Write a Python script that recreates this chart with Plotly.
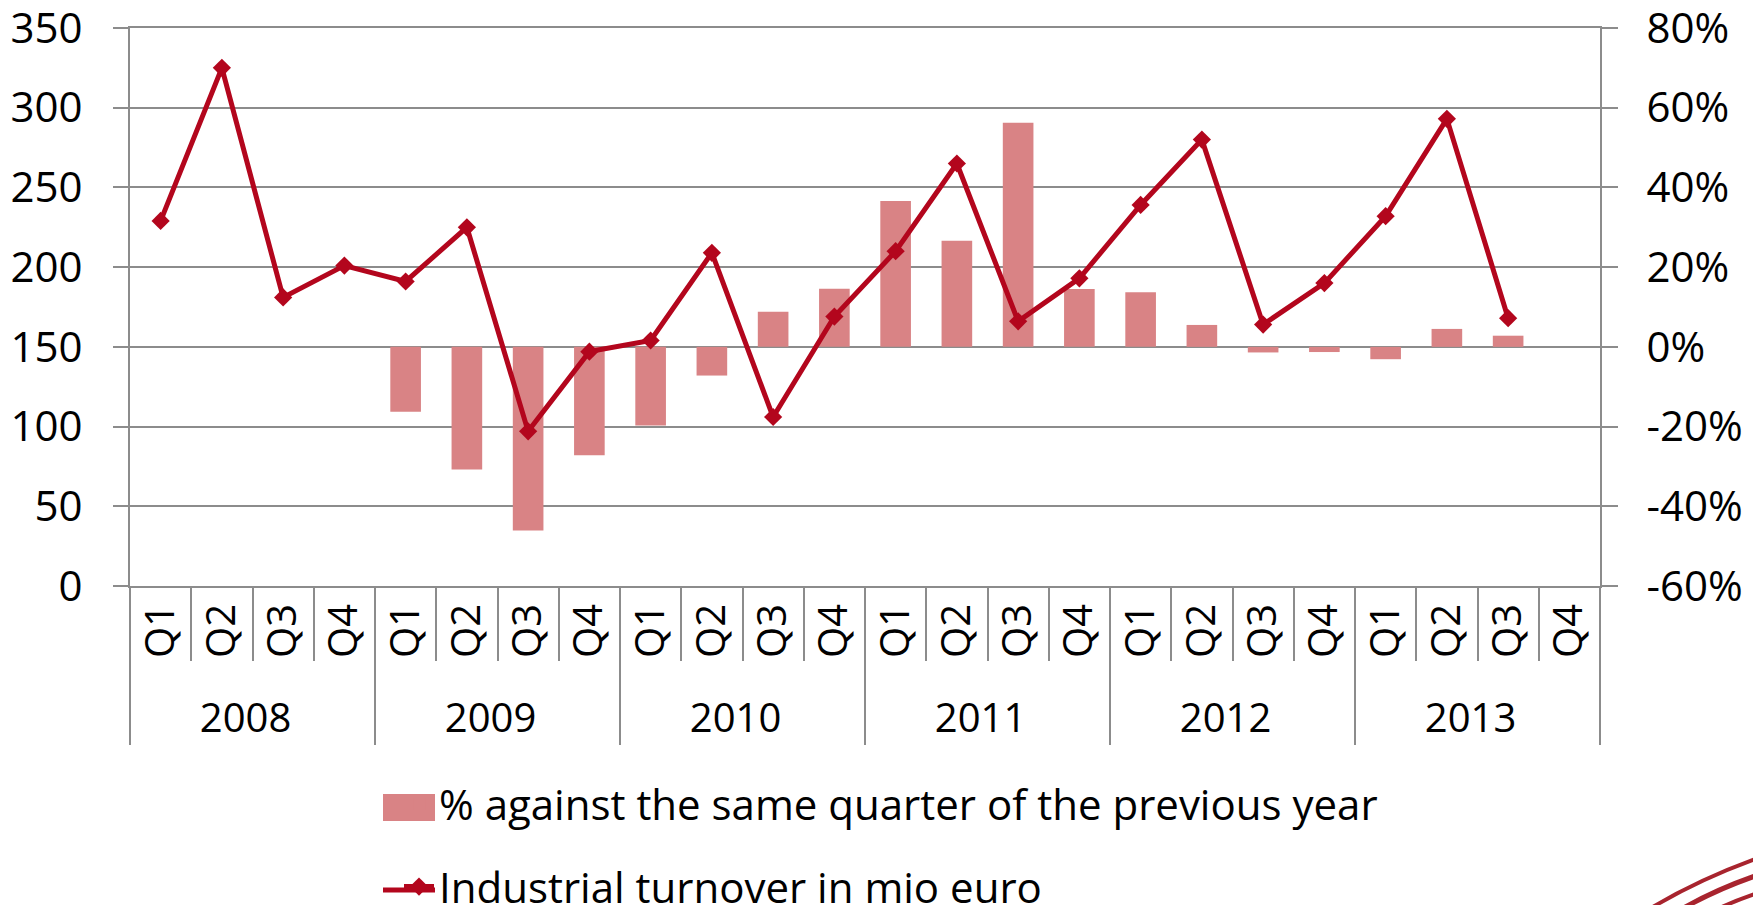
import plotly.graph_objects as go

years = ["2008"] * 4 + ["2009"] * 4 + ["2010"] * 4 + ["2011"] * 4 + ["2012"] * 4 + ["2013"] * 4
quarters = ["Q1", "Q2", "Q3", "Q4"] * 6

turnover = [229, 325, 181, 201, 191, 225, 97, 147, 154, 209, 106, 169,
            210, 265, 166, 193, 239, 280, 164, 190, 232, 293, 168, None]
pct_change = [None, None, None, None, -16.3, -30.8, -46.1, -27.2, -19.7, -7.2, 8.8, 14.6,
              36.6, 26.6, 56.2, 14.5, 13.7, 5.5, -1.4, -1.3, -3.1, 4.5, 2.8, None]
pct_frac = [None if v is None else v / 100 for v in pct_change]

left_ticks = [0, 50, 100, 150, 200, 250, 300, 350]
right_ticks = [-0.6, -0.4, -0.2, 0, 0.2, 0.4, 0.6, 0.8]
right_text = ["-60%", "-40%", "-20%", "0%", "20%", "40%", "60%", "80%"]

FONT = "Open Sans, sans-serif"
GRID = "#8c8c8c"
BAR = "#d98385"
LINE = "#b3061d"

# page has an 8px body margin, figure is sized to fit inside the 1761x913 window
W, H = 1745, 897
L, R, T, B = 122, 153, 20, 319
PW, PH = W - L - R, H - T - B
OFF = 8


def px(x, y):
    # convert window pixel coordinates to paper coordinates
    return (x - OFF - L) / PW, (H - B - (y - OFF)) / PH


fig = go.Figure()
fig.add_trace(go.Bar(
    x=[years, quarters], y=pct_frac, yaxis="y",
    name="% against the same quarter of the previous year",
    legendgroup="a",
    marker=dict(color=BAR, line=dict(width=0)), width=0.5,
))
fig.add_trace(go.Scatter(
    x=[years, quarters], y=turnover, yaxis="y2",
    name="Industrial turnover in mio euro",
    legendgroup="b",
    mode="lines+markers",
    line=dict(color=LINE, width=5),
    marker=dict(symbol="diamond", size=14, color=LINE),
))

fig.update_layout(
    width=W, height=H,
    margin=dict(l=L, r=R, t=T, b=B, autoexpand=False),
    paper_bgcolor="white", plot_bgcolor="white",
    font=dict(family=FONT, size=42, color="black"),
    showlegend=True,
    legend=dict(x=0.183, xanchor="left", y=-0.33, yanchor="top",
                orientation="v", font=dict(size=42), tracegroupgap=25,
                bgcolor="rgba(0,0,0,0)"),
    xaxis=dict(type="multicategory", range=[-0.5, 23.5], automargin=False,
               tickangle=-90, ticks="outside", ticklen=73,
               tickcolor=GRID, tickwidth=2, showline=True, linecolor=GRID, linewidth=2,
               mirror=True,
               showdividers=True, dividercolor=GRID, dividerwidth=2,
               tickfont=dict(size=40), showgrid=False),
    yaxis=dict(side="right", range=[-0.6, 0.8], tickvals=right_ticks, ticktext=right_text,
               automargin=False, ticklabeloverflow="allow",
               showgrid=True, gridcolor=GRID, gridwidth=2, zeroline=False,
               showline=True, linecolor=GRID, linewidth=2,
               ticks="outside", ticklen=16, tickcolor=GRID, tickwidth=2,
               ticklabelstandoff=20),
    yaxis2=dict(side="left", overlaying="y", range=[0, 350], tickvals=left_ticks,
                automargin=False, ticklabeloverflow="allow",
                showgrid=False, zeroline=False,
                showline=True, linecolor=GRID, linewidth=2,
                ticks="outside", ticklen=15, tickcolor=GRID, tickwidth=2,
                ticklabelstandoff=22),
)

# larger legend keys, as in the original
a, b = px(383, 794)
c, d = px(435, 821)
fig.add_shape(type="rect", xref="paper", yref="paper", x0=a, y0=b, x1=c, y1=d,
              fillcolor=BAR, line=dict(width=0), layer="above")
a, b = px(383, 890)
c, d = px(435, 890)
fig.add_shape(type="line", xref="paper", yref="paper", x0=a, y0=b, x1=c, y1=d,
              line=dict(color=LINE, width=5), layer="above")

# decorative swoosh in bottom-right corner
SWOOSH = "#a8242e"
for (x0, y0), (cx, cy), (x1, y1), w in [
    ((1638, 916), (1695, 880), (1764, 856), 4),
    ((1670, 916), (1712, 890), (1764, 873), 5),
    ((1703, 916), (1730, 902), (1764, 891), 4),
]:
    a, b = px(x0, y0)
    c, d = px(cx, cy)
    e, f = px(x1, y1)
    fig.add_shape(type="path", xref="paper", yref="paper",
                  path=f"M {a} {b} Q {c} {d} {e} {f}",
                  line=dict(color=SWOOSH, width=w), layer="above")

fig.write_html("out.html")
